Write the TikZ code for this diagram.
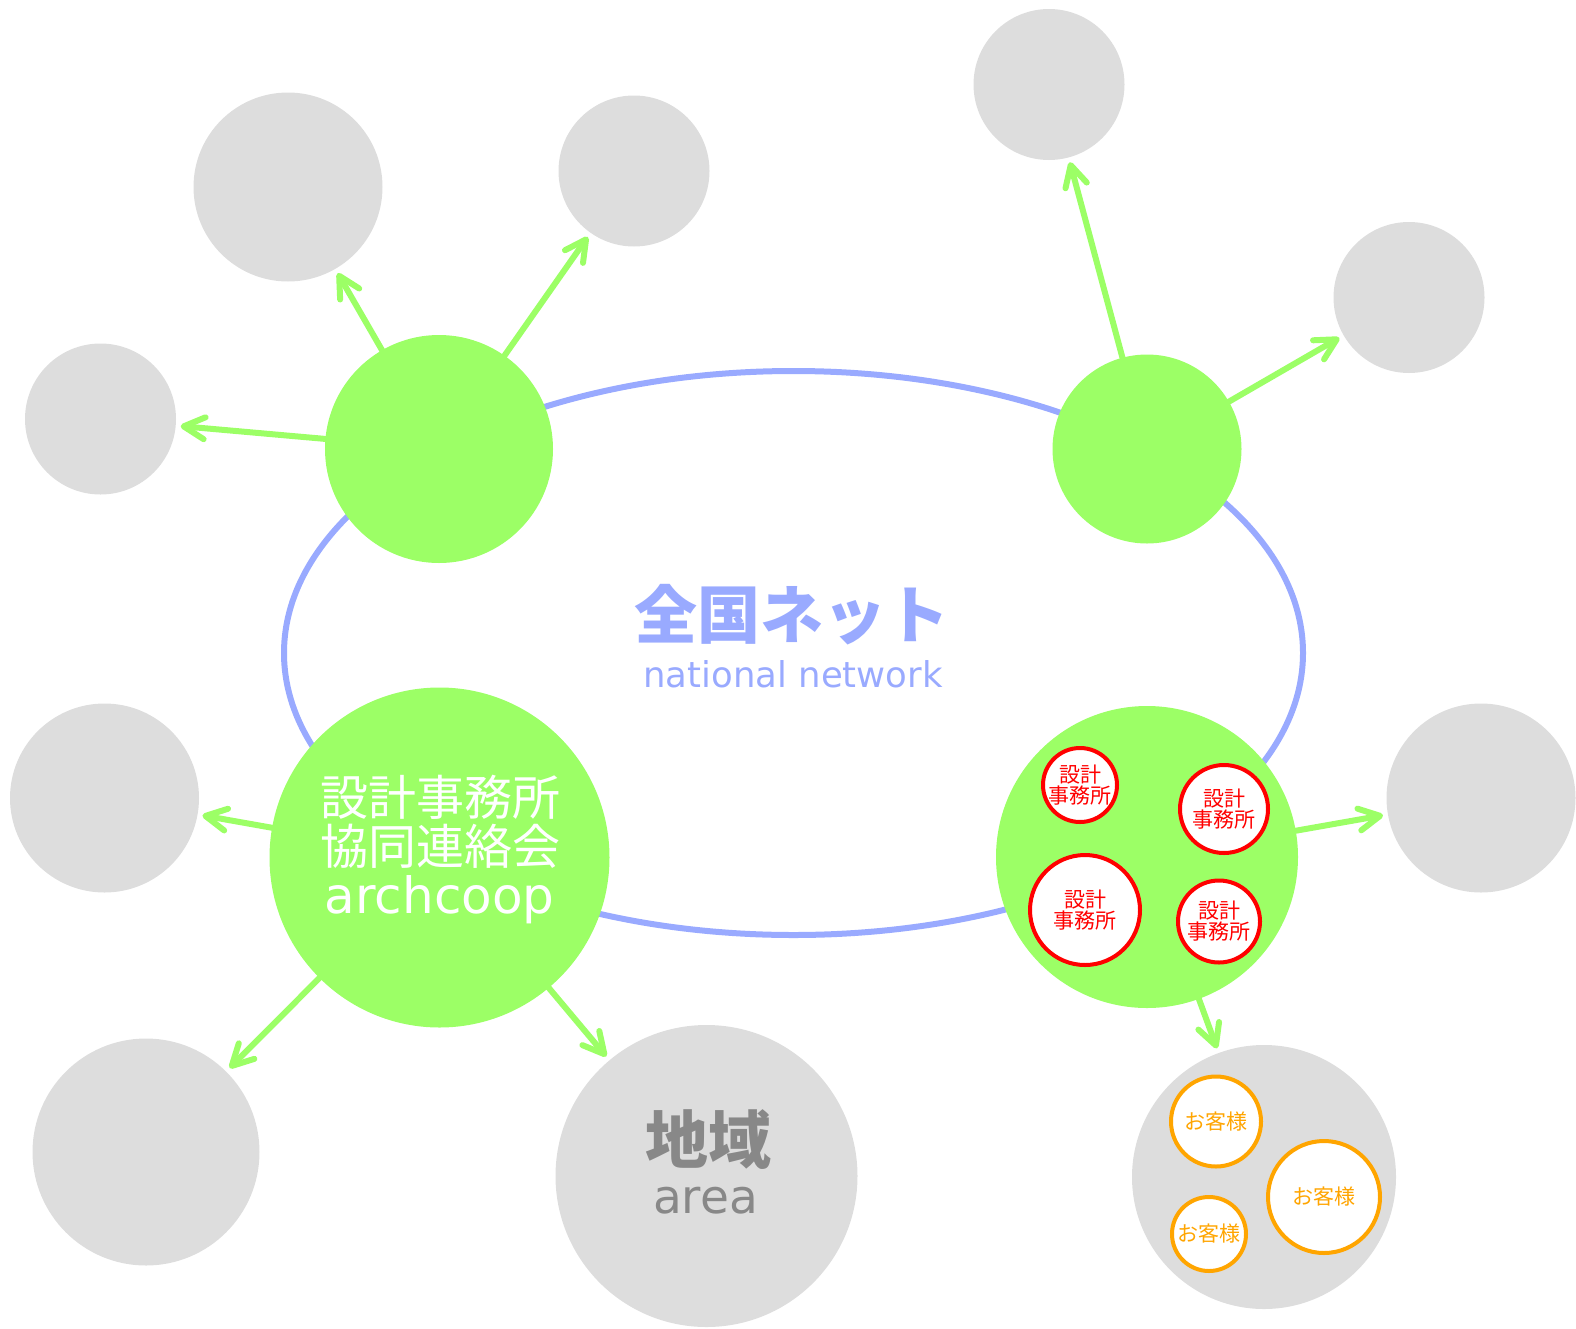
\documentclass[tikz,border=0pt]{standalone}
\usepackage{fontspec}
\newfontfamily\cjk{Noto Sans CJK JP}
\newfontfamily\lat{DejaVu Sans}
\usetikzlibrary{arrows.meta,shapes.geometric}
\definecolor{grn}{HTML}{9CFF66}
\definecolor{blu}{HTML}{99AAFF}
\definecolor{lgray}{HTML}{DDDDDD}
\definecolor{dgray}{HTML}{888888}
\definecolor{org}{HTML}{FFA500}
\tikzset{
  gcirc/.style={circle, fill=grn, inner sep=0, outer sep=0, minimum size=#1},
  ycirc/.style={circle, fill=lgray, inner sep=0, outer sep=0, minimum size=#1},
  arr/.style={draw=grn, line width=6pt, line cap=round,
    -{Straight Barb[length=21pt,width=22pt,line cap=round,line join=round]}, shorten >=5pt},
  redtxt/.style={text=red, align=center, inner sep=0, font=\cjk\fontsize{21}{21}\selectfont},
  orgtxt/.style={text=org, align=center, inner sep=0, font=\cjk\fontsize{21}{21}\selectfont},
  redc/.style={circle, draw=red, line width=4pt, fill=white, inner sep=0, minimum size=#1},
  orgc/.style={circle, draw=org, line width=4pt, fill=white, inner sep=0, minimum size=#1},
}
\begin{document}
\begin{tikzpicture}[x=1pt,y=-1pt]
\useasboundingbox (0,0) rectangle (1576,1328);
% network ellipse
\node[ellipse, draw=blu, line width=6pt, inner sep=0, minimum width=1019, minimum height=564] (net) at (793.5,653) {};
% gray circles
\node[ycirc=189] (A) at (288,187) {};
\node[ycirc=151] (B) at (634,171) {};
\node[ycirc=151] (C) at (100.5,419) {};
\node[ycirc=151] (D) at (1049,84.5) {};
\node[ycirc=151] (E) at (1409,297.5) {};
\node[ycirc=189] (F) at (104.5,798) {};
\node[ycirc=189] (H) at (1481,798) {};
\node[ycirc=227] (I) at (146,1152) {};
\node[ycirc=302] (J) at (706.5,1176) {};
\node[ycirc=264] (K) at (1264,1177) {};
% green hubs (coordinates for arrows)
\coordinate (g1c) at (439,449);
\coordinate (g2c) at (1147,449);
\coordinate (g3c) at (439.5,857.5);
\coordinate (g4c) at (1147,857);
% arrows
\draw[arr] (g1c) -- (A);
\draw[arr] (g1c) -- (B);
\draw[arr] (g1c) -- (C);
\draw[arr] (g2c) -- (D);
\draw[arr] (g2c) -- (E);
\draw[arr] (g3c) -- (F);
\draw[arr] (g3c) -- (I);
\draw[arr] (g3c) -- (J);
\draw[arr] (g4c) -- (H);
\draw[arr] (g4c) -- (K);
% green circles
\node[gcirc=228] (G1) at (g1c) {};
\node[gcirc=189] (G2) at (g2c) {};
\node[gcirc=340] (G3) at (g3c) {};
\node[gcirc=302] (G4) at (g4c) {};
% center text
\node[anchor=base, text=blu, inner sep=0, font=\cjk\bfseries\fontsize{63}{63}\selectfont] (t1) at (792,638) {全国ネット};
\node[anchor=base, text=blu, inner sep=0, font=\lat\fontsize{35.5}{36}\selectfont] (t2) at (793,687) {national network};
% archcoop text
\node[anchor=base, text=white, inner sep=0, font=\cjk\fontsize{48}{48}\selectfont] (a1) at (440,815) {設計事務所};
\node[anchor=base, text=white, inner sep=0, font=\cjk\fontsize{48}{48}\selectfont] (a2) at (440,864) {協同連絡会};
\node[anchor=base, text=white, inner sep=0, font=\lat\fontsize{50}{50}\selectfont] (a3) at (439.5,913) {archcoop};
% area text
\node[anchor=base, text=dgray, inner sep=0, font=\cjk\bfseries\fontsize{63}{63}\selectfont] (r1) at (708,1163) {地域};
\node[anchor=base, text=dgray, inner sep=0, font=\lat\fontsize{47}{47}\selectfont] (r2) at (705.5,1213) {area};
% offices
\node[redc=74, label={[redtxt]center:設計\\事務所}] (o1) at (1080,785) {};
\node[redc=88, label={[redtxt]center:設計\\事務所}] (o2) at (1224,809) {};
\node[redc=110, label={[redtxt]center:設計\\事務所}] (o3) at (1085,910) {};
\node[redc=82, label={[redtxt]center:設計\\事務所}] (o4) at (1219,921.5) {};
% customers
\node[orgc=90, label={[orgtxt]center:お客様}] (c1) at (1216,1121.5) {};
\node[orgc=112, label={[orgtxt]center:お客様}] (c2) at (1324,1197) {};
\node[orgc=74, label={[orgtxt]center:お客様}] (c3) at (1209,1234) {};
\end{tikzpicture}
\end{document}
